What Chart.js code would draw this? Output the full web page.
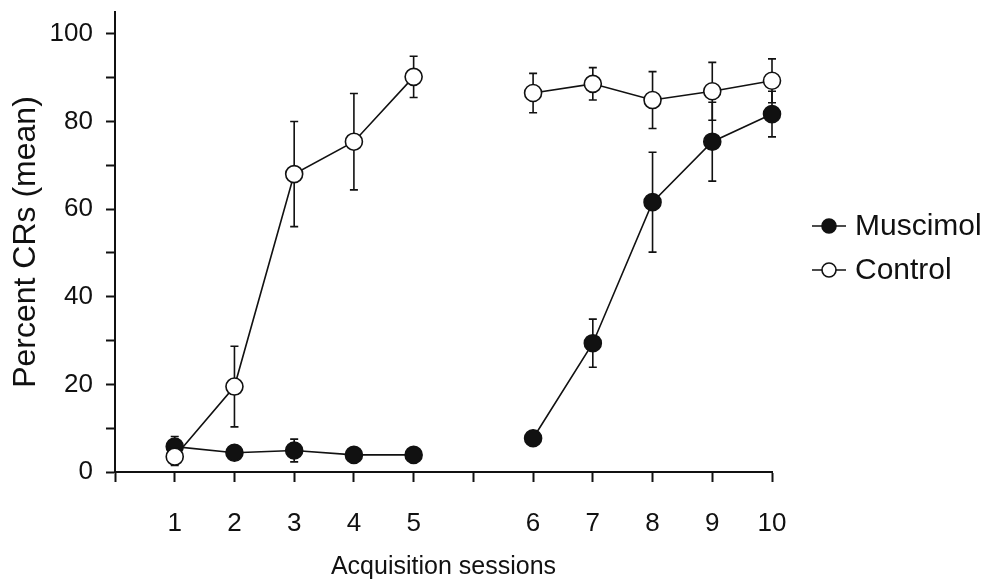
<!DOCTYPE html>
<html>
<head>
<meta charset="utf-8">
<script src="https://cdn.jsdelivr.net/npm/chart.js@4.4.1/dist/chart.umd.min.js"></script>
<style>
  html, body { margin: 0; padding: 0; background: #fff; }
  canvas { display: block; }
</style>
</head>
<body>
<canvas id="c" width="986" height="582"></canvas>
<script>
// ---- data ----
const sessions      = [1, 2, 3, 4, 5, 6, 7, 8, 9, 10];
const muscimol      = [5.8, 4.4, 4.9, 3.9, 3.9, 7.7, 29.4, 61.6, 75.4, 81.7];
const muscimolErr   = [2.3, 0, 2.6, 0, 0, 0, 5.5, 11.4, 9.0, 5.2];
const control       = [3.5, 19.5, 68.0, 75.4, 90.2, 86.5, 88.6, 84.9, 86.9, 89.3];
const controlErr    = [2.0, 9.2, 12.0, 11.0, 4.7, 4.5, 3.7, 6.5, 6.6, 5.0];
const xTickLabels   = ['', '1', '2', '3', '4', '5', '', '6', '7', '8', '9', '10'];
const yTickLabels   = [0, 20, 40, 60, 80, 100];
const seriesNames   = ['Muscimol', 'Control'];

// sessions 6-10 sit after a one-step gap on the axis
const blockSize = 5;
const posOf = s => (s <= blockSize ? s : s + 1);

function buildPoints(vals, errs) {
  const pts = [];
  sessions.forEach((s, i) => {
    pts.push({ x: posOf(s), y: vals[i], e: errs[i] });
    if (s === blockSize) pts.push({ x: blockSize + 1, y: null, e: 0 });
  });
  return pts;
}

const FONT = '"Liberation Sans", Arial, Helvetica, sans-serif';
const INK = '#111';

const errorBars = {
  id: 'errorBars',
  beforeDatasetsDraw(chart) {
    const { ctx, scales: { x, y } } = chart;
    ctx.save();
    ctx.strokeStyle = INK;
    ctx.lineWidth = 1.6;
    chart.data.datasets.forEach(ds => {
      ds.data.forEach(p => {
        if (p.y == null || !p.e) return;
        const px = x.getPixelForValue(p.x);
        const top = y.getPixelForValue(p.y + p.e);
        const bot = y.getPixelForValue(p.y - p.e);
        ctx.beginPath();
        ctx.moveTo(px, top); ctx.lineTo(px, bot);
        ctx.moveTo(px - 4, top); ctx.lineTo(px + 4, top);
        ctx.moveTo(px - 4, bot); ctx.lineTo(px + 4, bot);
        ctx.stroke();
      });
    });
    ctx.restore();
  }
};

const sideLegend = {
  id: 'sideLegend',
  afterDraw(chart) {
    const { ctx } = chart;
    const items = [
      { name: seriesNames[0], fill: INK, y: 226 },
      { name: seriesNames[1], fill: '#fff', y: 270 }
    ];
    ctx.save();
    items.forEach(it => {
      ctx.strokeStyle = INK;
      ctx.lineWidth = 1.6;
      ctx.beginPath();
      ctx.moveTo(812, it.y); ctx.lineTo(846, it.y);
      ctx.stroke();
      ctx.beginPath();
      ctx.arc(829, it.y, 7, 0, Math.PI * 2);
      ctx.fillStyle = it.fill;
      ctx.fill();
      ctx.stroke();
      ctx.fillStyle = INK;
      ctx.font = '30px ' + FONT;
      ctx.textAlign = 'left';
      ctx.textBaseline = 'middle';
      ctx.fillText(it.name, 855, it.y + 1);
    });
    ctx.restore();
  }
};

new Chart(document.getElementById('c'), {
  type: 'line',
  data: {
    datasets: [
      {
        label: seriesNames[1],
        data: buildPoints(control, controlErr),
        borderColor: INK, borderWidth: 1.6,
        pointRadius: 8.5, pointBorderWidth: 1.6,
        pointBackgroundColor: '#fff', pointBorderColor: INK,
        spanGaps: false, tension: 0, clip: false
      },
      {
        label: seriesNames[0],
        data: buildPoints(muscimol, muscimolErr),
        borderColor: INK, borderWidth: 1.6,
        pointRadius: 8.5, pointBorderWidth: 1.6,
        pointBackgroundColor: INK, pointBorderColor: INK,
        spanGaps: false, tension: 0, clip: false
      }
    ]
  },
  options: {
    responsive: false,
    animation: false,
    events: [],
    layout: { padding: { left: 0, right: 214, top: 12, bottom: 0 } },
    plugins: { legend: { display: false }, tooltip: { enabled: false } },
    scales: {
      x: {
        type: 'linear', min: 0, max: 11,
        afterFit: s => { s.height = 110; s.paddingLeft = 0; s.paddingRight = 0; },
        afterBuildTicks: s => { s.ticks = xTickLabels.map((_, i) => ({ value: i })); },
        ticks: {
          autoSkip: false, maxRotation: 0, padding: 26,
          callback: v => xTickLabels[v] ?? '',
          color: INK, font: { size: 26, family: FONT }
        },
        grid: { drawOnChartArea: false, drawTicks: true, tickLength: 10, tickColor: INK, tickWidth: 2 },
        border: { color: INK, width: 2 },
        title: { display: true, text: 'Acquisition sessions', color: INK,
                 font: { size: 25, family: FONT }, padding: { top: 0, bottom: 0 } }
      },
      y: {
        min: 0, max: 105,
        afterFit: s => { s.width = 115; s.paddingTop = 0; s.paddingBottom = 0; },
        afterBuildTicks: s => {
          const t = [];
          for (let v = 0; v <= 100; v += 10) t.push({ value: v });
          s.ticks = t;
        },
        ticks: {
          padding: 13,
          callback: v => (yTickLabels.includes(v) ? String(v) : ''),
          color: INK, font: { size: 26, family: FONT }
        },
        grid: { drawOnChartArea: false, drawTicks: true, tickLength: 9, tickColor: INK, tickWidth: 2 },
        border: { color: INK, width: 2 },
        title: { display: true, text: 'Percent CRs (mean)', color: INK,
                 font: { size: 32, family: FONT }, padding: { top: 7, bottom: 0 } }
      }
    }
  },
  plugins: [errorBars, sideLegend]
});
</script>
</body>
</html>
